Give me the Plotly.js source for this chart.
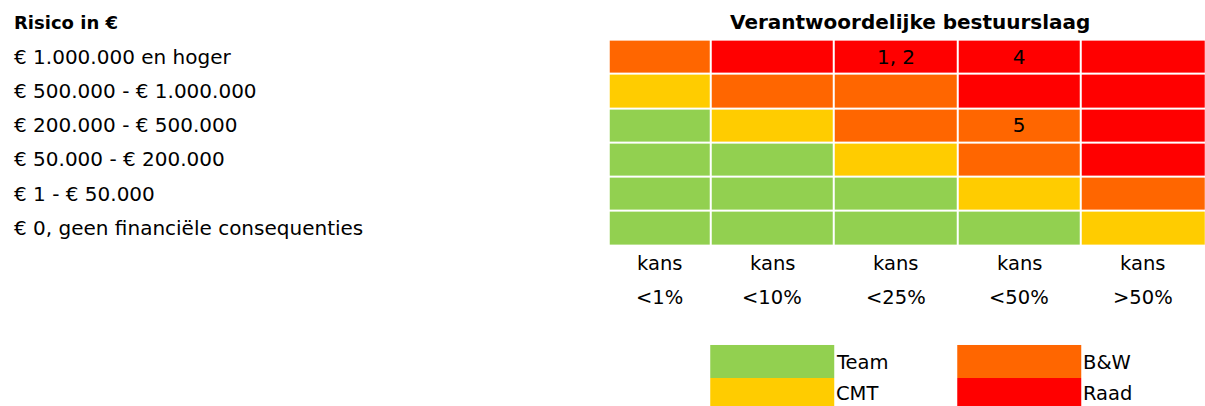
<!DOCTYPE html>
<html><head><meta charset="utf-8">
<script src="https://cdn.plot.ly/plotly-3.0.1.min.js"></script>
<style>html,body{margin:0;padding:0;background:#fff}</style>
</head><body><div id="chart" style="width:1205px;height:406px"></div>
<script>
// ---- data ----
const chartTitle = "Verantwoordelijke bestuurslaag";
const rowHeader = "Risico in €";
const riskRows = ["€ 1.000.000 en hoger", "€ 500.000 - € 1.000.000", "€ 200.000 - € 500.000",
  "€ 50.000 - € 200.000", "€ 1 - € 50.000", "€ 0, geen financiële consequenties"];
const chanceWord = ["kans", "kans", "kans", "kans", "kans"];
const chanceRange = ["<1%", "<10%", "<25%", "<50%", ">50%"];
const levels = ["Team", "CMT", "B&W", "Raad"];
const levelColors = ["#92D050", "#FFCC00", "#FF6600", "#FF0000"];
const matrix = [
  ["B&W", "Raad", "Raad", "Raad", "Raad"],
  ["CMT", "B&W", "B&W", "Raad", "Raad"],
  ["Team", "CMT", "B&W", "B&W", "Raad"],
  ["Team", "Team", "CMT", "B&W", "Raad"],
  ["Team", "Team", "Team", "CMT", "B&W"],
  ["Team", "Team", "Team", "Team", "CMT"]
];
const cellNotes = [
  ["", "", "1, 2", "4", ""],
  ["", "", "", "", ""],
  ["", "", "", "5", ""],
  ["", "", "", "", ""],
  ["", "", "", "", ""],
  ["", "", "", "", ""]
];
const legendLeft = ["Team", "CMT"];
const legendRight = ["B&W", "Raad"];

// ---- layout constants ----
const FONT = "DejaVu Sans, Verdana, sans-serif";
const colEdges = [-0.322, 0.5, 1.5, 2.5, 3.5, 4.51];
const xRange = [-5.251, 4.506];
const yRange = [10.196, -1.655];
const legendCols = [0.5, 1.5, 2.5, 3.5];
const legendRowEdges = [8.415, 9.37, 10.2];

const code = v => levels.indexOf(v);
const n = levels.length;
const colorscale = [];
levelColors.forEach((c, i) => { colorscale.push([i / n, c]); colorscale.push([(i + 1) / n, c]); });

const rowIdx = riskRows.map((_, i) => i);
const centers = chanceRange.map((_, i) => (colEdges[i] + Math.min(colEdges[i + 1], 4.5)) / 2);

const grid = {
  type: "heatmap",
  x: colEdges, y: rowIdx,
  z: matrix.map(r => r.map(code)),
  text: cellNotes, texttemplate: "%{text}",
  textfont: {family: FONT, size: 20, color: "#000"},
  colorscale: colorscale, zmin: -0.5, zmax: n - 0.5,
  showscale: false, xgap: 2, ygap: 2, hoverinfo: "skip"
};
const legendGrid = {
  type: "heatmap",
  x: legendCols, y: legendRowEdges,
  z: [[code(legendLeft[0]), null, code(legendRight[0])],
      [code(legendLeft[1]), null, code(legendRight[1])]],
  colorscale: colorscale, zmin: -0.5, zmax: n - 0.5,
  showscale: false, xgap: 0, ygap: 0, hoverinfo: "skip"
};

const esc = s => s.replace(/&/g, "&amp;").replace(/</g, "&lt;").replace(/>/g, "&gt;");
const ann = [];
const txt = (o, size) => Object.assign({showarrow: false, font: {family: FONT, size: size, color: "#000"}}, o);
ann.push(txt({text: "<b>" + esc(chartTitle) + "</b>", xref: "x", yref: "y",
  x: (colEdges[0] + 4.5) / 2 + 0.03, y: -1}, 20));
ann.push(txt({text: "<b>" + esc(rowHeader) + "</b>", xref: "paper", yref: "y", x: 12 / 1205, xanchor: "left", y: -1}, 18));
riskRows.forEach((r, i) => ann.push(txt({text: esc(r), xref: "paper", yref: "y", x: 12 / 1205, xanchor: "left", y: i}, 20)));
chanceWord.forEach((w, i) => ann.push(txt({text: esc(w), xref: "x", yref: "y", x: centers[i], y: 6.03}, 19.5)));
chanceRange.forEach((w, i) => ann.push(txt({text: esc(w), xref: "x", yref: "y", x: centers[i], y: 7.04}, 19.5)));
const lmid = [(legendRowEdges[0] + legendRowEdges[1]) / 2 + 0.03, (legendRowEdges[1] + legendRowEdges[2]) / 2 + 0.06];
legendLeft.forEach((l, i) => ann.push(txt({text: esc(l), xref: "x", yref: "y", x: legendCols[1], xanchor: "left", y: lmid[i]}, 19.5)));
legendRight.forEach((l, i) => ann.push(txt({text: esc(l), xref: "x", yref: "y", x: legendCols[3], xanchor: "left", y: lmid[i]}, 19.5)));

const ax = {showgrid: false, zeroline: false, showticklabels: false, ticks: "", showline: false, fixedrange: true};
const layout = {
  width: 1205, height: 406,
  margin: {l: 0, r: 0, t: 0, b: 0},
  paper_bgcolor: "#fff", plot_bgcolor: "#fff",
  xaxis: Object.assign({range: xRange, domain: [0, 1]}, ax),
  yaxis: Object.assign({range: yRange, domain: [0, 1]}, ax),
  annotations: ann, showlegend: false
};
Plotly.newPlot("chart", [grid, legendGrid], layout, {staticPlot: true});
</script></body></html>
